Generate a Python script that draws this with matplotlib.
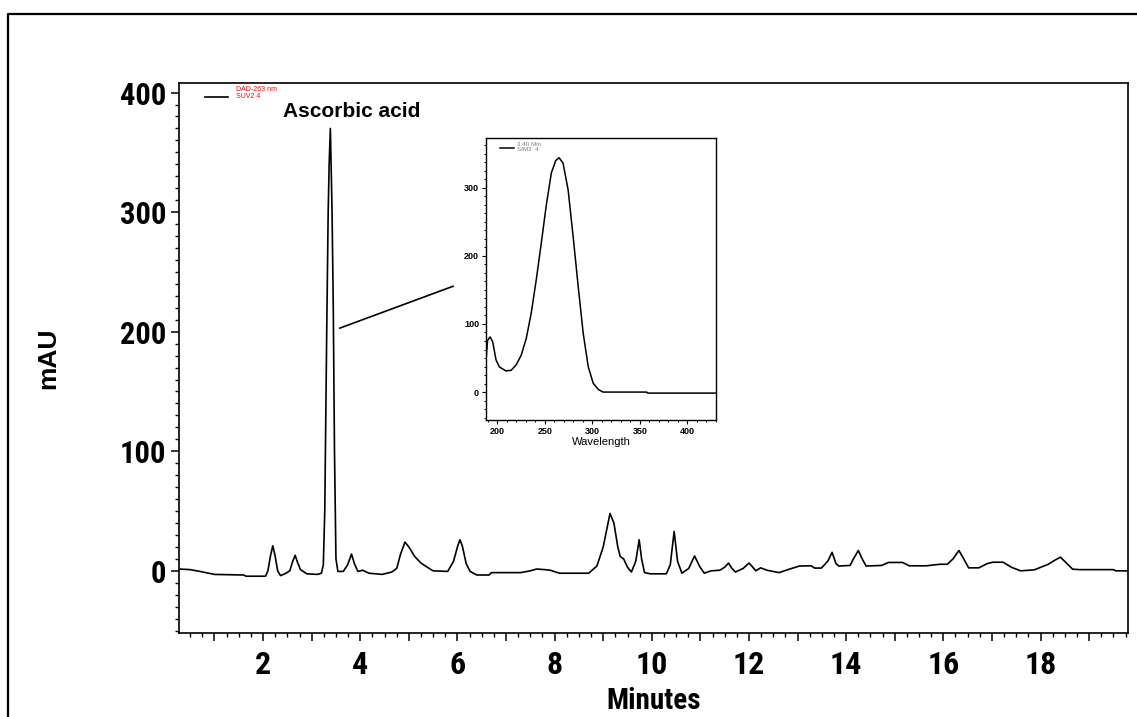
"""HPLC chromatogram of ascorbic acid with the UV spectrum of the main peak as inset."""

import matplotlib
matplotlib.use("Agg")
import matplotlib.pyplot as plt
from matplotlib.lines import Line2D
from matplotlib.ticker import MultipleLocator, FuncFormatter

NARROW = ["Roboto Condensed", "Liberation Sans"]
ARIAL = ["Liberation Sans", "DejaVu Sans"]
FIG_W, FIG_H, DPI = 11.37, 7.17, 100

# chromatogram, retention time [min] vs absorbance [mAU]
time_min = [
    0.27, 0.5, 0.7, 1.0, 1.6, 1.65, 2.05, 2.10, 2.15, 2.20, 2.25, 2.30, 2.36, 2.45,
    2.55, 2.61, 2.66, 2.71, 2.77, 2.90, 3.12, 3.20, 3.24, 3.27, 3.31, 3.34, 3.36,
    3.385, 3.40, 3.42, 3.445, 3.47, 3.50, 3.54, 3.65, 3.74, 3.82, 3.88, 3.95, 4.05,
    4.18, 4.45, 4.65, 4.75, 4.83, 4.92, 5.0, 5.12, 5.25, 5.36, 5.50, 5.8, 5.92, 6.0,
    6.05, 6.10, 6.18, 6.26, 6.4, 6.65, 6.7, 7.3, 7.5, 7.63, 7.8, 7.91, 8.10, 8.7,
    8.87, 9.0, 9.14, 9.22, 9.30, 9.35, 9.42, 9.50, 9.58, 9.67, 9.74, 9.79, 9.85,
    9.97, 10.3, 10.38, 10.46, 10.53, 10.62, 10.76, 10.88, 10.98, 11.08, 11.22,
    11.40, 11.50, 11.58, 11.65, 11.72, 11.88, 12.0, 12.08, 12.14, 12.24, 12.37,
    12.62, 12.83, 13.04, 13.28, 13.35, 13.49, 13.62, 13.71, 13.79, 13.85, 14.08,
    14.15, 14.25, 14.33, 14.41, 14.73, 14.87, 15.16, 15.30, 15.65, 15.93, 16.08,
    16.20, 16.32, 16.42, 16.52, 16.73, 16.90, 17.02, 17.23, 17.40, 17.59, 17.87,
    18.16, 18.30, 18.41, 18.52, 18.66, 18.80, 19.5, 19.55, 19.8,
]
absorb_mau = [
    1.5, 1.0, -0.5, -3, -3.5, -4.5, -4.5, 0, 12, 21, 12, 0, -4, -2.5,
    0, 8, 13, 7, 1, -2.5, -3, -2, 5, 50, 200, 300, 340,
    370, 340, 300, 220, 100, 10, -0.5, -0.5, 5, 14, 6, -0.5, 0.5,
    -2, -3, -1, 2, 14, 24, 20, 12, 6.5, 3.5, 0, -0.5, 8, 20,
    26, 21, 6, -0.5, -3.5, -3.5, -1.5, -1.5, 0, 1.5, 1, 0.5, -2, -2,
    4, 20, 48, 40, 20, 12, 10, 3, -1, 8, 26, 10, -1.5,
    -2.5, -2.5, 5, 33, 8, -2, 2, 12.5, 4, -2, 0,
    0.5, 3, 6.5, 2, -1, 2, 6.5, 3, 0, 2.5, 0.5,
    -1.5, 1.4, 4, 4.2, 2.3, 2.3, 8, 15.5, 6, 4, 4.5,
    10, 17, 10, 4, 4.5, 7, 7, 4.2, 4.2, 5.5, 5.5,
    10, 17, 10, 2.5, 2.5, 6, 7.2, 7.2, 3, 0, 0.8,
    5.5, 9, 11.4, 7, 1.4, 1, 1, 0, 0,
]

# UV spectrum at 3.40 min, wavelength [nm] vs absorbance
wavelength_nm = [
    188, 189.7, 192.3, 195, 198.6, 202, 209, 214.5, 219.8, 225, 230.4, 235.6,
    240.9, 246.2, 251.5, 256.8, 261.4, 264.9, 269.1, 274.4, 279.7, 285, 290.3,
    295.6, 300.8, 306.1, 311, 357, 358, 430,
]
spectrum_mau = [
    47, 76, 81, 74, 47, 37, 31, 32, 40, 54, 79, 116,
    165, 219, 275, 322, 340, 344, 336, 297, 228, 155, 86,
    37, 13, 4, 0, 0, -1.5, -1.5,
]


def even_minutes(value, _pos):
    v = int(round(value))
    return f"{v}" if v % 2 == 0 and v > 0 else ""


def draw_chromatogram(ax):
    ax.plot(time_min, absorb_mau, color="black", linewidth=1.2)
    ax.set_xlim(0.27, 19.8)
    ax.set_ylim(-52, 408)

    ax.xaxis.set_major_locator(MultipleLocator(1))
    ax.xaxis.set_minor_locator(MultipleLocator(0.25))
    ax.xaxis.set_major_formatter(FuncFormatter(even_minutes))
    ax.yaxis.set_major_locator(MultipleLocator(100))
    ax.yaxis.set_minor_locator(MultipleLocator(10))
    ax.tick_params(which="major", direction="out", length=6, width=1.1, pad=6)
    ax.tick_params(which="minor", direction="out", length=3, width=1.0)
    ax.tick_params(axis="y", which="major", pad=3)
    for lab in ax.get_xticklabels():
        lab.set_family(NARROW)
        lab.set_fontweight("bold")
        lab.set_fontsize(23)
    for lab in ax.get_yticklabels():
        lab.set_family(NARROW)
        lab.set_fontweight("bold")
        lab.set_fontsize(22)
    for sp in ax.spines.values():
        sp.set_linewidth(1.2)

    ax.set_xlabel("Minutes", family=NARROW, fontweight="bold", fontsize=21, labelpad=5)
    ax.set_ylabel("mAU", family=ARIAL, fontweight="bold", fontsize=19, labelpad=43)

    ax.text(3.83, 384, "Ascorbic acid", family=ARIAL, fontweight="bold",
            fontsize=15, ha="center", va="center")

    # small instrument legend in the corner
    ax.add_line(Line2D([0.027, 0.052], [0.9745, 0.9745], transform=ax.transAxes,
                       color="black", linewidth=1.2))
    ax.text(0.060, 0.982, "DAD-263 nm\nSUV2 4", transform=ax.transAxes, color="red",
            fontsize=5, family=ARIAL, va="center", ha="left", linespacing=1.0)

    # pointer from the main peak towards the spectrum
    ax.plot([3.58, 5.91], [203, 238], color="black", linewidth=1.2)


def draw_spectrum(ax):
    ax.plot(wavelength_nm, spectrum_mau, color="black", linewidth=1.1)
    ax.set_xlim(188, 430)
    ax.set_ylim(-41, 373)
    ax.xaxis.set_major_locator(MultipleLocator(50))
    ax.xaxis.set_minor_locator(MultipleLocator(10))
    ax.yaxis.set_major_locator(MultipleLocator(100))
    ax.yaxis.set_minor_locator(MultipleLocator(12.5))
    ax.tick_params(which="major", direction="out", length=3, width=0.8, pad=2,
                   labelsize=6.5)
    ax.tick_params(which="minor", direction="out", length=1.5, width=0.7)
    for lab in ax.get_xticklabels() + ax.get_yticklabels():
        lab.set_fontweight("bold")
        lab.set_family(ARIAL)
    for sp in ax.spines.values():
        sp.set_linewidth(1.0)
    ax.set_xlabel("Wavelength", family=ARIAL, fontsize=8, labelpad=1)

    ax.add_line(Line2D([0.061, 0.122], [0.9645, 0.9645], transform=ax.transAxes,
                       color="black", linewidth=1.1))
    ax.text(0.135, 0.967, "3.40 Min\nSIM2  4", transform=ax.transAxes, color="gray",
            fontsize=4.5, family=ARIAL, va="center", ha="left", linespacing=1.0)


fig = plt.figure(figsize=(FIG_W, FIG_H), dpi=DPI)

# outer frame of the original figure (left and top edges)
fx, fy = 8 / 1137, 1 - 14 / 717
fig.add_artist(Line2D([fx, fx, 1.0], [0.0, fy, fy], transform=fig.transFigure,
                      color="black", linewidth=1.6))

main_ax = fig.add_axes([179 / 1137, 1 - 633 / 717, 949 / 1137, 550 / 717])
draw_chromatogram(main_ax)

inset_ax = fig.add_axes([486 / 1137, 1 - 420 / 717, 230 / 1137, 282 / 717])
draw_spectrum(inset_ax)

fig.savefig("out.png", dpi=DPI)
plt.close(fig)
